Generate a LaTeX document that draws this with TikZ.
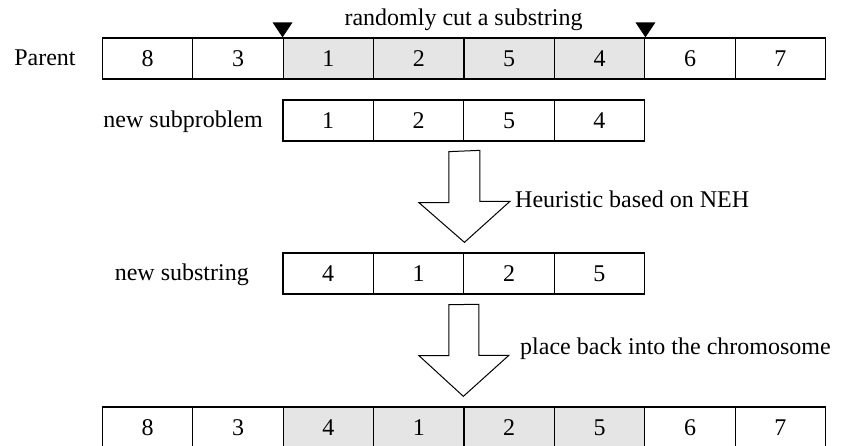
\documentclass[tikz,border=0pt]{standalone}
\usepackage{fontspec}
\setmainfont{Liberation Serif}
\usetikzlibrary{calc}

\begin{document}
\begin{tikzpicture} [x=1pt, y=-1pt,
  cell/.style={draw, line width=1.3pt, minimum width=90.4pt, minimum height=41pt, inner sep=0pt, font=\fontsize{24}{26}\selectfont},
  lbl/.style={inner sep=0pt, font=\fontsize{24}{26}\selectfont}]
\useasboundingbox (0,0) rectangle (844,446);

\foreach \v/\f [count=\i] in {8/white, 3/white, 1/black!10, 2/black!10, 5/black!10, 4/black!10, 6/white, 7/white}
 \node[cell, fill=\f] (p\i) at (57.2+90.4*\i, 58.5) {\v};
\foreach \v [count=\i] in {1, 2, 5, 4}
 \node[cell] (s\i) at (237.8+90.4*\i, 120.5) {\v};
\foreach \v [count=\i] in {4, 1, 2, 5}
 \node[cell] (n\i) at (237.8+90.4*\i, 273.5) {\v};
\foreach \v/\f [count=\i] in {8/white, 3/white, 4/black!10, 1/black!10, 2/black!10, 5/black!10, 6/white, 7/white}
 \node[cell, fill=\f] (c\i) at (57.2+90.4*\i, 427.5) {\v};

\node[lbl, anchor=base] (parent) at (45, 66) {Parent};
\node[lbl, anchor=base] (cut) at (463.5, 26) {randomly cut a substring};
\node[lbl, anchor=base east] (subp) at (263, 128) {new subproblem};
\node[lbl, anchor=base east] (subs) at (249, 281) {new substring};

\fill[black] (p3.north west) -- ++(-10,-15) -- ++(20,0) -- cycle;
\fill[black] (p6.north east) -- ++(-10,-15) -- ++(20,0) -- cycle;

\coordinate (a1) at ($(s2.south east)+(0,10)$);
\coordinate (b1) at ($(n2.north east)+(0,-10)$);
\draw[line width=1pt] (a1) ++(-15.5,0) -- ++(0,51) -- ++(-30,0) -- (b1) -- ++(45.5,-41) -- ++(-30,0) -- ++(0,-51) -- cycle;
\node[lbl, anchor=base west] (neh) at (515, 208) {Heuristic based on NEH};

\coordinate (a2) at ($(n2.south east)+(0,10)$);
\coordinate (b2) at ($(c5.north west)+(0,-10)$);
\draw[line width=1pt] (a2) ++(-15.5,0) -- ++(0,51) -- ++(-30,0) -- (b2) -- ++(45.5,-41) -- ++(-30,0) -- ++(0,-51) -- cycle;
\node[lbl, anchor=base west] (back) at (520, 355) {place back into the chromosome};

\end{tikzpicture}
\end{document}
